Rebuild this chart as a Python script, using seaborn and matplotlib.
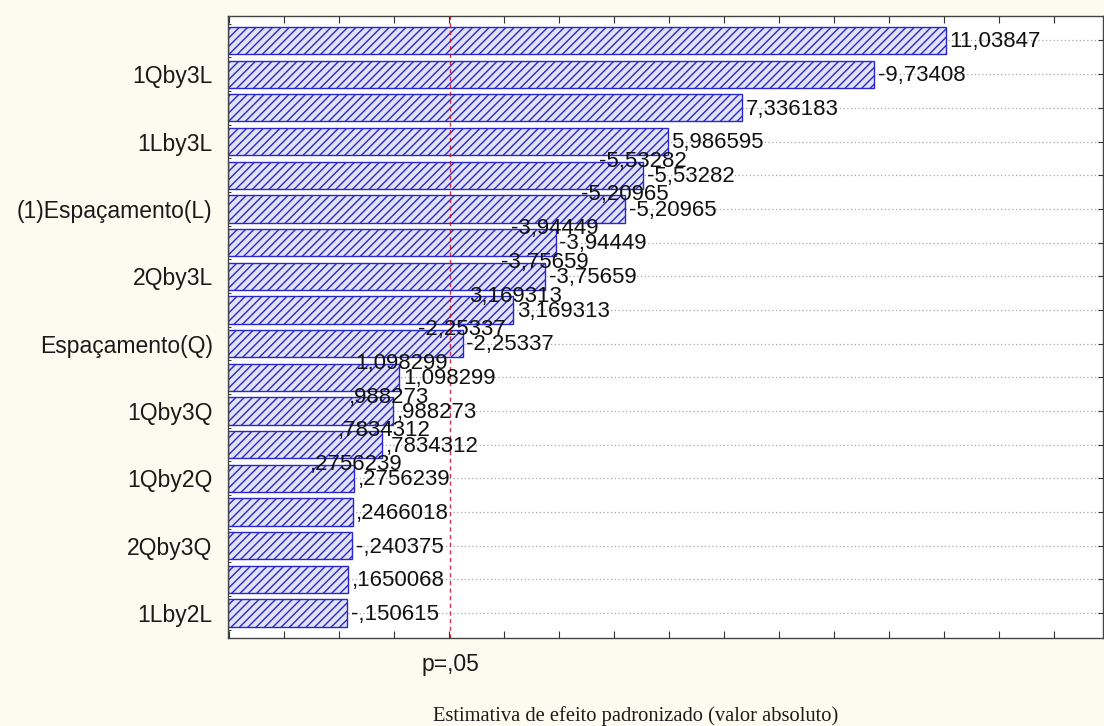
import numpy as np
import pandas as pd
import matplotlib
matplotlib.use("Agg")
import matplotlib.pyplot as plt
import matplotlib.transforms as mtransforms
from matplotlib.ticker import MultipleLocator, FixedLocator, NullFormatter
import seaborn as sns

# ---------------- data ----------------
tick_labels = ["", "1Qby3L", "", "1Lby3L", "", "(1)Espaçamento(L)", "",
               "2Qby3L", "", "Espaçamento(Q)", "", "1Qby3Q", "", "1Qby2Q",
               "", "2Qby3Q", "", "1Lby2L"]
effects = [11.03847, -9.73408, 7.336183, 5.986595, -5.53282, -5.20965,
           -3.94449, -3.75659, 3.169313, -2.25337, 1.098299, 0.988273,
           0.7834312, 0.2756239, 0.2466018, -0.240375, 0.1650068, -0.150615]
doubled_label = [False, False, False, False, True, True, True, True, True,
                 True, True, True, True, True, False, False, False, False]
p_critical = 2.02
p_label = "p=,05"
x_title = "Estimativa de efeito padronizado (valor absoluto)"


def fmt(v):
    s = str(v)
    s = s.replace("0.", ".", 1) if s.startswith("0.") or s.startswith("-0.") else s
    return s.replace(".", ",")


# ---------------- style ----------------
sns.set_theme(style="white")
plt.rcParams["font.family"] = ["Liberation Sans", "DejaVu Sans"]
plt.rcParams["hatch.linewidth"] = 1.0

W, H, DPI = 1104, 726, 100
fig = plt.figure(figsize=(W / DPI, H / DPI), dpi=DPI, facecolor="#FDFBF0")
ax = fig.add_axes([228 / W, 1 - 638 / H, (1103 - 228) / W, (638 - 16) / H])
ax.set_facecolor("white")

df = pd.DataFrame({"pos": np.arange(len(effects)),
                   "abs_effect": np.abs(effects)})

xlim = (-2.02, 13.9)
sns.barplot(data=df, x="abs_effect", y="pos", orient="h", ax=ax,
            width=0.81, saturation=1, color="#E2E2F6", edgecolor="#2828CC",
            linewidth=1.0, hatch="////", zorder=2)

# Statistica-style: bars start at the left edge of the axis
for p in ax.patches:
    w = p.get_width()
    p.set_x(xlim[0])
    p.set_width(w - xlim[0])

ax.set_xlim(*xlim)
ax.set_ylim(len(effects) - 0.258, -0.727)

# grid
ax.grid(False)
ax.yaxis.grid(True, linestyle=(0, (1, 2)), color="#A8A8A8", linewidth=0.9)
ax.set_axisbelow(True)

# critical line
ax.axvline(p_critical, color="#C8102E", linestyle=(0, (3, 2.5)),
           linewidth=1.0, zorder=3, alpha=0.85)

# value labels
for i, v in enumerate(effects):
    a = abs(v)
    ax.annotate(fmt(v), xy=(a, i), xytext=(2.5, -1), textcoords="offset points",
                ha="left", va="center", fontsize=16, color="#111111", zorder=4)
    if doubled_label[i]:
        ax.annotate(fmt(v), xy=(a, i), xytext=(2.5 - 34.5, 10),
                    textcoords="offset points", ha="left", va="center",
                    fontsize=16, color="#111111", zorder=4)

# ticks
ax.xaxis.set_major_locator(MultipleLocator(1))
ax.xaxis.set_major_formatter(NullFormatter())
ax.tick_params(axis="x", which="major", direction="in", length=5, width=0.8,
               top=True, bottom=True, colors="#333333")
ax.yaxis.set_major_locator(FixedLocator(np.arange(len(effects))))
ax.set_yticklabels(tick_labels, fontsize=16.5, color="#1A1A1A")
ax.yaxis.set_minor_locator(FixedLocator(np.arange(-0.5, len(effects), 0.25)))
ax.tick_params(axis="y", which="major", direction="in", length=3.5, width=0.8,
               left=True, right=True, pad=11, colors="#333333",
               labelcolor="#1A1A1A")
ax.tick_params(axis="y", which="minor", direction="in", length=2.5, width=0.7,
               left=True, right=False, colors="#333333")
ax.set_xlabel("")
ax.set_ylabel("")
for s in ax.spines.values():
    s.set_visible(True)
    s.set_color("#444444")
    s.set_linewidth(1.0)

# p label under the critical line
trans = mtransforms.blended_transform_factory(ax.transData, ax.transAxes)
ax.text(p_critical, -0.0434, p_label, transform=trans, ha="center",
        va="center", fontsize=16.5, color="#1A1A1A")

fig.text(636 / W, 1 - 716 / H, x_title, ha="center", va="center",
         fontsize=14.8, family=["Liberation Serif", "DejaVu Serif"],
         color="#1A1A1A")

fig.savefig("out.png", dpi=DPI, facecolor=fig.get_facecolor())
